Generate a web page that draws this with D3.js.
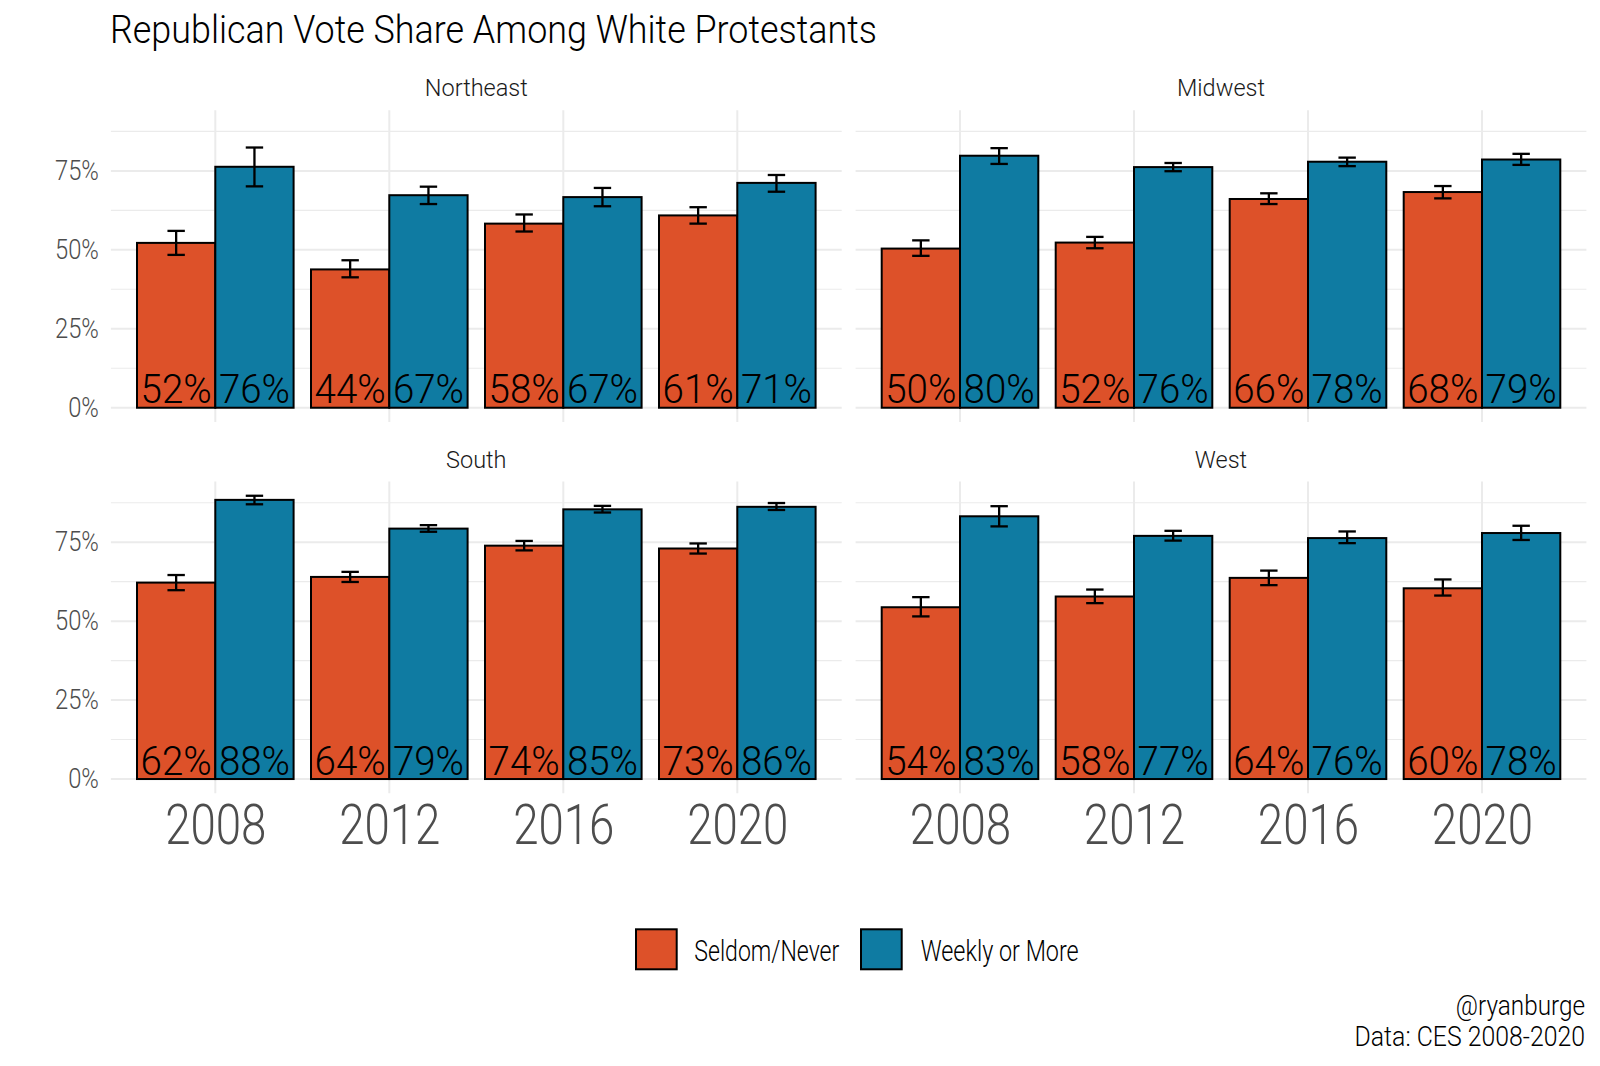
<!DOCTYPE html>
<html>
<head>
<meta charset="utf-8">
<script src="https://cdn.jsdelivr.net/npm/d3@7"></script>
<style>
  body { margin: 0; background: #fff; }
  svg text { font-family: Roboto, 'Noto Sans', sans-serif; font-weight: 300; }
</style>
</head>
<body>
<div id="chart"></div>
<script>
// data (percent)
var years = ["2008", "2012", "2016", "2020"]
var regions = ["Northeast", "Midwest", "South", "West"]
var groups = ["Seldom/Never", "Weekly or More"]
var groupColours = ["#dd5129", "#0f7ba2"]

// rows = regions, cols = years
var seldomShare = [
  [52.2, 43.8, 58.3, 60.9],
  [50.4, 52.3, 66.1, 68.3],
  [62.2, 64.0, 73.9, 73.0],
  [54.4, 57.8, 63.7, 60.4]
]
var seldomLow = [
  [48.4, 41.3, 55.8, 58.3],
  [48.1, 50.5, 64.5, 66.3],
  [59.8, 62.4, 72.4, 71.4],
  [51.5, 55.7, 61.4, 58.1]
]
var seldomHigh = [
  [56.0, 46.7, 61.2, 63.5],
  [53.0, 54.1, 67.9, 70.2],
  [64.6, 65.6, 75.4, 74.6],
  [57.6, 60.0, 66.0, 63.2]
]
var weeklyShare = [
  [76.3, 67.3, 66.7, 71.2],
  [79.8, 76.2, 77.9, 78.6],
  [88.4, 79.3, 85.4, 86.2],
  [83.2, 77.0, 76.3, 77.9]
]
var weeklyLow = [
  [70.1, 64.5, 63.8, 68.4],
  [77.2, 74.9, 76.5, 76.9],
  [87.0, 78.3, 84.4, 85.2],
  [80.0, 75.5, 74.7, 75.7]
]
var weeklyHigh = [
  [82.4, 70.0, 69.6, 73.7],
  [82.2, 77.5, 79.2, 80.4],
  [89.7, 80.4, 86.5, 87.4],
  [86.4, 78.6, 78.4, 80.2]
]
var yTicks = [0, 25, 50, 75]
var yMinor = [12.5, 37.5, 62.5, 87.5]

var width = 1600, height = 1066
var gridColour = '#ebebeb'
var axisTextColour = '#4d4d4d'

// panel layout (2 x 2 facets)
var panelLeft = [110.9, 855.6]
var panelW = 730.8
var panelTop = [110.3, 481.6]
var panelH = 311.6

// the original font is a narrow one, squeeze Roboto a bit
function condense(sel, k) {
  sel.each(function () {
    var w = this.getComputedTextLength()
    d3.select(this).attr("textLength", w * k).attr("lengthAdjust", "spacingAndGlyphs")
  })
}
function fitTo(sel, w) {
  sel.attr("textLength", w).attr("lengthAdjust", "spacingAndGlyphs")
}

var svg = d3.select("#chart").append("svg")
  .attr("width", width)
  .attr("height", height)

// title
svg.append("text").attr("x", 110).attr("y", 42.7)
  .text("Republican Vote Share Among White Protestants")
  .style("font-size", "39px").attr("fill", "#000")
  .call(fitTo, 767)

// shared y domain, expanded 5% like ggplot
var yMax = d3.max(weeklyHigh.concat(seldomHigh), function (r) { return d3.max(r) })
var yDomain = [-0.05 * yMax, 1.05 * yMax]

// flatten rows into records
function buildRecords(r) {
  var out = []
  years.forEach(function (yr, j) {
    out.push({ year: yr, g: 0, v: seldomShare[r][j], lo: seldomLow[r][j], hi: seldomHigh[r][j] })
    out.push({ year: yr, g: 1, v: weeklyShare[r][j], lo: weeklyLow[r][j], hi: weeklyHigh[r][j] })
  })
  return out
}

regions.forEach(function (region, r) {
  var col = r % 2, row = Math.floor(r / 2)
  var x0 = panelLeft[col], y0 = panelTop[row]

  var x = d3.scalePoint().domain(years).range([x0, x0 + panelW]).padding(0.6)
  var step = x.step()
  var barW = step * 0.45
  var y = d3.scaleLinear().domain(yDomain).range([y0 + panelH, y0])

  var g = svg.append("g")

  // grid
  g.selectAll(".minor").data(yMinor).enter().append("line")
    .attr("x1", x0).attr("x2", x0 + panelW)
    .attr("y1", function (d) { return y(d) }).attr("y2", function (d) { return y(d) })
    .attr("stroke", gridColour).attr("stroke-width", 1.1)
  g.selectAll(".major").data(yTicks).enter().append("line")
    .attr("x1", x0).attr("x2", x0 + panelW)
    .attr("y1", function (d) { return y(d) }).attr("y2", function (d) { return y(d) })
    .attr("stroke", gridColour).attr("stroke-width", 2)
  g.selectAll(".vgrid").data(years).enter().append("line")
    .attr("x1", function (d) { return x(d) }).attr("x2", function (d) { return x(d) })
    .attr("y1", y0).attr("y2", y0 + panelH)
    .attr("stroke", gridColour).attr("stroke-width", 2)

  // strip
  g.append("text").attr("x", x0 + panelW / 2).attr("y", y0 - 14)
    .attr("text-anchor", "middle").text(region)
    .style("font-size", "23.5px").attr("fill", "#1a1a1a")

  // y axis labels only on left column
  if (col === 0) {
    var yAxis = d3.axisLeft(y).tickValues(yTicks).tickSize(0).tickPadding(12)
      .tickFormat(function (d) { return d + "%" })
    var ag = g.append("g").attr("transform", "translate(" + x0 + ",0)").call(yAxis)
    ag.select(".domain").remove()
    ag.selectAll("text").style("font-size", "27px").style("font-family", null)
      .attr("fill", axisTextColour).call(condense, 0.88)
  }
  // x axis labels only on bottom row
  if (row === 1) {
    var xAxis = d3.axisBottom(x).tickSize(0).tickPadding(12)
    var xg = g.append("g").attr("transform", "translate(0," + (y0 + panelH) + ")").call(xAxis)
    xg.select(".domain").remove()
    xg.selectAll("text").style("font-size", "55px").style("font-family", null)
      .attr("fill", axisTextColour).call(condense, 0.83)
  }

  var recs = buildRecords(r)
  function bx(d) { return x(d.year) + (d.g === 0 ? -barW : 0) }

  g.selectAll(".bar").data(recs).enter().append("rect")
    .attr("x", bx).attr("width", barW)
    .attr("y", function (d) { return y(d.v) })
    .attr("height", function (d) { return y(0) - y(d.v) })
    .attr("fill", function (d) { return groupColours[d.g] })
    .attr("stroke", "#000").attr("stroke-width", 2)

  // error bars
  var capW = step * 0.1
  var eb = g.selectAll(".eb").data(recs).enter().append("g")
  eb.append("line")
    .attr("x1", function (d) { return bx(d) + barW / 2 }).attr("x2", function (d) { return bx(d) + barW / 2 })
    .attr("y1", function (d) { return y(d.lo) }).attr("y2", function (d) { return y(d.hi) })
  eb.append("line")
    .attr("x1", function (d) { return bx(d) + barW / 2 - capW / 2 }).attr("x2", function (d) { return bx(d) + barW / 2 + capW / 2 })
    .attr("y1", function (d) { return y(d.lo) }).attr("y2", function (d) { return y(d.lo) })
  eb.append("line")
    .attr("x1", function (d) { return bx(d) + barW / 2 - capW / 2 }).attr("x2", function (d) { return bx(d) + barW / 2 + capW / 2 })
    .attr("y1", function (d) { return y(d.hi) }).attr("y2", function (d) { return y(d.hi) })
  eb.selectAll("line").attr("stroke", "#000").attr("stroke-width", 2.3)

  // value labels at the bottom of bars
  g.selectAll(".lab").data(recs).enter().append("text")
    .attr("x", function (d) { return bx(d) + barW / 2 })
    .attr("y", y(0) - 4.4)
    .attr("text-anchor", "middle")
    .text(function (d) { return Math.round(d.v) + "%" })
    .style("font-size", "40.5px").attr("fill", "#000")
    .call(condense, 0.95)
})

// legend
var legX = [636, 861], legTextX = [694.3, 920.7], legTextW = [145, 158]
groups.forEach(function (name, i) {
  svg.append("rect").attr("x", legX[i]).attr("y", 929.3).attr("width", 40.7).attr("height", 40)
    .attr("fill", groupColours[i]).attr("stroke", "#000").attr("stroke-width", 2)
  svg.append("text").attr("x", legTextX[i]).attr("y", 950.7).attr("dy", "0.36em")
    .text(name).style("font-size", "29px").attr("fill", "#000")
    .call(fitTo, legTextW[i])
})

// caption, squeezed with a transform so it stays right-aligned
svg.append("text").attr("transform", "translate(1585,1015) scale(0.9,1)")
  .attr("text-anchor", "end")
  .text("@ryanburge").style("font-size", "27px").attr("fill", "#000")
svg.append("text").attr("transform", "translate(1585,1046) scale(0.92,1)")
  .attr("text-anchor", "end")
  .text("Data: CES 2008-2020").style("font-size", "27px").attr("fill", "#000")
</script>
</body>
</html>
